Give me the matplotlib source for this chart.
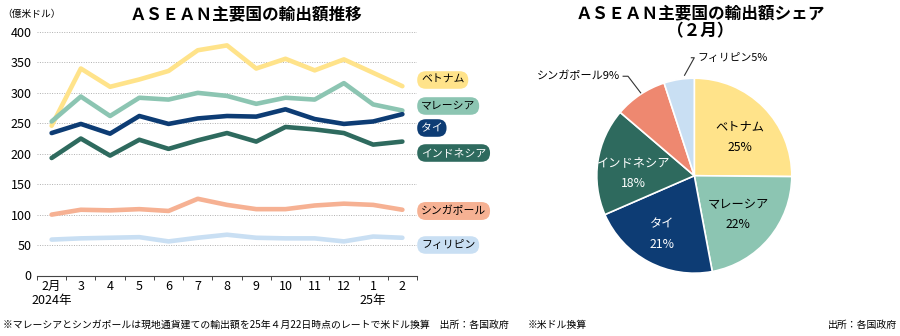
import matplotlib.pyplot as plt
from matplotlib.ticker import FixedLocator

plt.rcParams['font.family'] = ['Noto Sans CJK JP', 'DejaVu Sans']

months = ["2月", "3", "4", "5", "6", "7", "8", "9", "10", "11", "12", "1", "2"]
countries = ["ベトナム", "マレーシア", "タイ", "インドネシア", "シンガポール", "フィリピン"]

vietnam = [246, 340, 310, 322, 336, 370, 378, 340, 356, 337, 355, 333, 311]
malaysia = [253, 294, 262, 292, 289, 300, 295, 282, 292, 289, 316, 281, 271]
thailand = [234, 249, 233, 262, 249, 258, 262, 261, 273, 257, 249, 253, 265]
indonesia = [193, 225, 197, 223, 208, 222, 234, 220, 244, 240, 234, 215, 220]
singapore = [100, 108, 107, 109, 106, 126, 116, 109, 109, 115, 118, 116, 108]
philippines = [59, 61, 62, 63, 56, 62, 67, 62, 61, 61, 56, 64, 62]

line_colors = ["#FFE38A", "#8CC5B2", "#0D3C74", "#2E6A5E", "#F6B193", "#C9DFF3"]
pie_colors = ["#FFE38A", "#8CC5B2", "#0D3C74", "#2E6A5E", "#EE8870", "#C9DFF3"]
label_text_colors = ["black", "black", "white", "white", "black", "black"]
label_y = [80, 106, 128, 153, 211, 245]  # pixel rows of the end labels

series = [vietnam, malaysia, thailand, indonesia, singapore, philippines]

W, H = 900, 336
fig = plt.figure(figsize=(9, 3.36), dpi=100)

# ---- line chart ----
ax = fig.add_axes([37 / W, 1 - 275.5 / H, (417 - 37) / W, (275.5 - 32) / H])
x = range(len(months))
for vals, c in zip(series, line_colors):
    ax.plot(x, vals, color=c, lw=3.3, solid_capstyle="round", solid_joinstyle="round")

ax.set_xlim(-0.5, 12.5)
ax.set_ylim(0, 400)
ax.set_yticks(range(0, 401, 50))
ax.yaxis.grid(True, color="#b0b0b0", ls=(0, (1, 1.5)), lw=0.7)
ax.set_axisbelow(True)
for s in ["left", "right", "top"]:
    ax.spines[s].set_visible(False)
ax.spines["bottom"].set_color("#444444")
ax.spines["bottom"].set_linewidth(0.8)
ax.tick_params(axis="y", length=0, labelsize=9, pad=4)
ax.set_xticks(list(x))
ax.set_xticklabels(months, fontsize=9)
ax.tick_params(axis="x", which="major", length=0, pad=3)
ax.xaxis.set_minor_locator(FixedLocator([i - 0.5 for i in range(14)]))
ax.tick_params(axis="x", which="minor", length=3, width=0.7, color="#444444")
ax.text(0, -0.075, "2024年", transform=ax.get_xaxis_transform(), ha="center", va="top", fontsize=9)
ax.text(11, -0.075, "25年", transform=ax.get_xaxis_transform(), ha="center", va="top", fontsize=9)

for name, c, tc, yp in zip(countries, line_colors, label_text_colors, label_y):
    fig.text(421 / W, 1 - yp / H, name, ha="left", va="center", fontsize=7.8, color=tc,
             bbox=dict(boxstyle="round,pad=0.35,rounding_size=0.8", fc=c, ec="none"))

fig.text(2 / W, 1 - 14 / H, "（億米ドル）", ha="left", va="center", fontsize=7)
fig.text(246 / W, 1 - 14 / H, "ＡＳＥＡＮ主要国の輸出額推移", ha="center", va="center",
         fontsize=12, fontweight="bold")

# ---- pie chart (latest month) ----
shares = [s[-1] for s in series]
total = sum(shares)
r_px = 97.5
pax = fig.add_axes([(694.3 - r_px) / W, 1 - (175.7 + r_px) / H, 2 * r_px / W, 2 * r_px / H])
wedges, _ = pax.pie(shares, colors=pie_colors, startangle=90, counterclock=False,
                    wedgeprops=dict(edgecolor="white", linewidth=1.2))
pax.set_xlim(-1, 1)
pax.set_ylim(-1, 1)
pax.set_aspect("equal")

inner_pos = [(0.47, 0.39), (0.45, -0.40), (-0.33, -0.60), (-0.62, 0.03)]
for i, (px, py) in enumerate(inner_pos):
    pct = round(shares[i] / total * 100)
    pax.text(px, py, f"{countries[i]}\n{pct}%", ha="center", va="center", fontsize=8.8,
             color=label_text_colors[i], linespacing=1.75)

pct_sg = round(shares[4] / total * 100)
pct_ph = round(shares[5] / total * 100)
pax.plot([-0.73, -0.68, -0.55], [1.02, 1.02, 0.85], color="#333333", lw=0.8, clip_on=False)
pax.text(-0.76, 1.02, f"{countries[4]}{pct_sg}%", ha="right", va="center", fontsize=8)
pax.plot([-0.03, -0.0, -0.1], [1.21, 1.21, 1.03], color="#333333", lw=0.8, clip_on=False)
pax.text(0.03, 1.21, f"{countries[5]}{pct_ph}%", ha="left", va="center", fontsize=7.8)

fig.text(700 / W, 1 - 13 / H, "ＡＳＥＡＮ主要国の輸出額シェア", ha="center", va="center",
         fontsize=12, fontweight="bold")
fig.text(700 / W, 1 - 31 / H, "（２月）", ha="center", va="center", fontsize=12, fontweight="bold")

# ---- footnotes ----
fig.text(3 / W, 1 - 325 / H, "※マレーシアとシンガポールは現地通貨建ての輸出額を25年４月22日時点のレートで米ドル換算　出所：各国政府",
         ha="left", va="center", fontsize=7.1)
fig.text(528 / W, 1 - 325 / H, "※米ドル換算", ha="left", va="center", fontsize=7.1)
fig.text(897 / W, 1 - 325 / H, "出所：各国政府", ha="right", va="center", fontsize=7.1)

fig.savefig("out.png", dpi=100)
